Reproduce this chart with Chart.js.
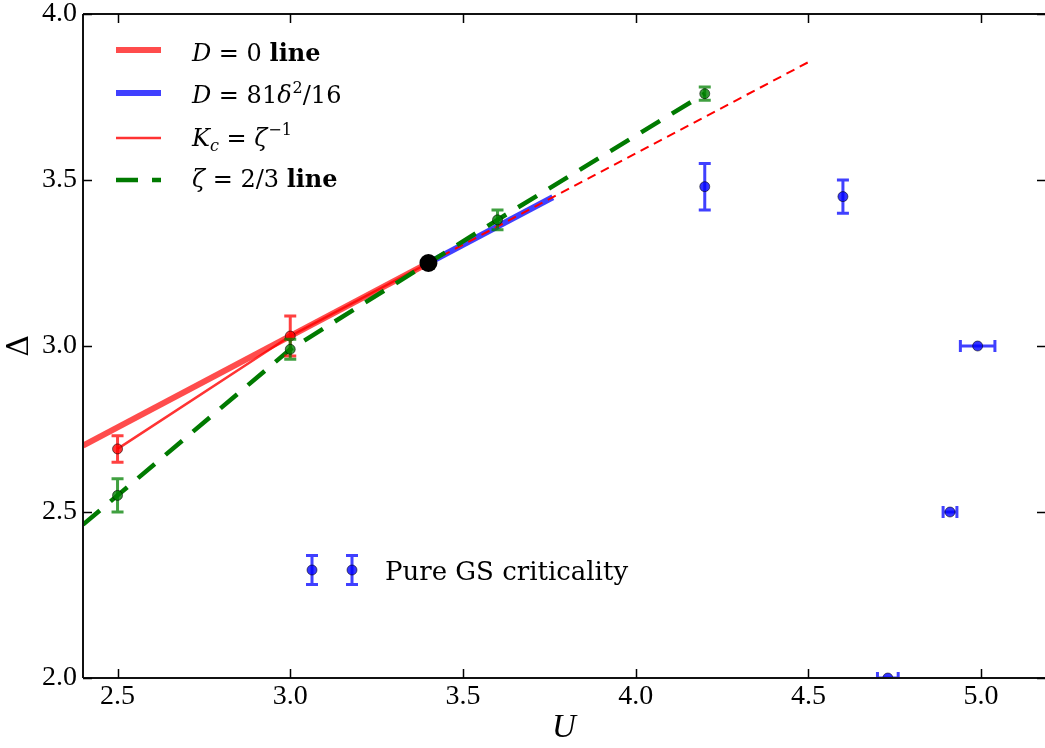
<!DOCTYPE html>
<html><head><meta charset="utf-8">
<script src="https://cdn.jsdelivr.net/npm/chart.js@4.4.1/dist/chart.umd.min.js"></script>
<style>html,body{margin:0;padding:0;background:#fff;overflow:hidden}#wrap{width:1045px;height:748px;position:relative}</style>
</head><body><div id="wrap"><canvas id="c" width="1045" height="748"></canvas></div>
<script>
// ---- axis ranges / ticks ----
const xTicks = [2.5, 3.0, 3.5, 4.0, 4.5, 5.0];
const yTicks = [2.0, 2.5, 3.0, 3.5, 4.0];
const xRange = [2.4, 5.185];
const yRange = [2.0, 4.0];

// ---- lines ----
const d0LineU = [2.4, 3.4];
const d0LineD = [2.70, 3.25];
const blueLineU = [3.4, 3.76];
const blueLineD = [3.25, 3.448];
const kcLineU = [2.5, 3.0, 3.4];
const kcLineD = [2.69, 3.03, 3.25];
const redDashU = [3.4, 4.5];
const redDashD = [3.25, 3.855];
const zetaLineU = [2.4, 2.5, 3.0, 3.4, 3.6, 4.2];
const zetaLineD = [2.462, 2.55, 2.99, 3.25, 3.38, 3.76];

// ---- data points ----
const redU = [2.5, 3.0];
const redD = [2.69, 3.03];
const redErr = [0.04, 0.06];
const greenU = [2.5, 3.0, 3.6, 4.2];
const greenD = [2.55, 2.99, 3.38, 3.76];
const greenErr = [0.05, 0.03, 0.03, 0.02];
const blueU = [4.2, 4.6, 4.99, 4.91, 4.73];
const blueD = [3.48, 3.45, 3.0, 2.5, 2.0];
const blueErrU = [0, 0, 0.05, 0.02, 0.03];
const blueErrD = [0.07, 0.05, 0, 0, 0];
const critU = [3.4];
const critD = [3.25];

const legendLabels = ['D = 0 line', 'D = 81δ²/16', 'K_c = ζ^-1', 'ζ = 2/3 line'];
const gsLabel = 'Pure GS criticality';

const pts = (xs, ys) => xs.map((x, i) => ({x: x, y: ys[i]}));

const RED_PT = 'rgba(255,0,0,0.8)', GREEN_PT = 'rgba(0,128,0,0.8)', BLUE_PT = 'rgba(0,0,255,0.8)';
const RED_EB = 'rgba(255,0,0,0.75)', GREEN_EB = 'rgba(0,128,0,0.75)', BLUE_EB = 'rgba(0,0,255,0.75)';

function lineDs(label, xs, ys, color, width, dash, order) {
  return {label, data: pts(xs, ys), showLine: true, borderColor: color, borderWidth: width,
    borderDash: dash || [], pointRadius: 0, tension: 0, order, fill: false, borderCapStyle: 'butt'};
}
function ptDs(label, xs, ys, fill, ebColor, errX, errY, order, r) {
  return {label, data: pts(xs, ys), showLine: false, pointRadius: r || 5, pointBackgroundColor: fill,
    pointBorderColor: 'rgba(0,0,0,0.55)', pointBorderWidth: 1, order, errX, errY, ebColor, clip: 0};
}

const datasets = [
  lineDs(legendLabels[0], d0LineU, d0LineD, 'rgba(255,0,0,0.7)', 6, null, 8),
  lineDs(legendLabels[1], blueLineU, blueLineD, 'rgba(0,0,255,0.75)', 6, null, 7),
  lineDs(legendLabels[2], kcLineU, kcLineD, 'rgba(255,0,0,0.8)', 2.5, null, 6),
  lineDs('dashed', redDashU, redDashD, 'rgba(255,0,0,1)', 2, [9, 6], 5),
  lineDs(legendLabels[3], zetaLineU, zetaLineD, '#007a00', 4.5, [22, 14], 4),
  ptDs('red pts', redU, redD, RED_PT, RED_EB, null, redErr, 3),
  ptDs('green pts', greenU, greenD, GREEN_PT, GREEN_EB, null, greenErr, 2),
  ptDs(gsLabel, blueU, blueD, BLUE_PT, BLUE_EB, blueErrU, blueErrD, 1),
  {label: 'critical', data: pts(critU, critD), showLine: false, pointRadius: 9, pointBackgroundColor: '#000',
   pointBorderColor: '#000', pointBorderWidth: 0, order: 0}
];

function drawEB(ctx, cx, cy, dxPx, dyPx, color) {
  ctx.save();
  ctx.strokeStyle = color; ctx.lineWidth = 3; ctx.lineCap = 'butt';
  const cap = 6;
  if (dyPx > 0) {
    ctx.beginPath();
    ctx.moveTo(cx, cy - dyPx); ctx.lineTo(cx, cy + dyPx);
    ctx.moveTo(cx - cap, cy - dyPx); ctx.lineTo(cx + cap, cy - dyPx);
    ctx.moveTo(cx - cap, cy + dyPx); ctx.lineTo(cx + cap, cy + dyPx);
    ctx.stroke();
  }
  if (dxPx > 0) {
    ctx.beginPath();
    ctx.moveTo(cx - dxPx, cy); ctx.lineTo(cx + dxPx, cy);
    ctx.moveTo(cx - dxPx, cy - cap); ctx.lineTo(cx - dxPx, cy + cap);
    ctx.moveTo(cx + dxPx, cy - cap); ctx.lineTo(cx + dxPx, cy + cap);
    ctx.stroke();
  }
  ctx.restore();
}

const errorBarPlugin = {
  id: 'errbars',
  beforeDatasetDraw(chart, args) {
    const ds = chart.data.datasets[args.index];
    if (!ds.errX && !ds.errY) return;
    const {ctx, chartArea: a, scales: {x, y}} = chart;
    ctx.save();
    ctx.beginPath(); ctx.rect(a.left, a.top, a.right - a.left, a.bottom - a.top); ctx.clip();
    ds.data.forEach((p, i) => {
      const cx = x.getPixelForValue(p.x), cy = y.getPixelForValue(p.y);
      const ex = ds.errX ? ds.errX[i] : 0, ey = ds.errY ? ds.errY[i] : 0;
      const dx = ex ? Math.abs(x.getPixelForValue(p.x + ex) - cx) : 0;
      const dy = ey ? Math.abs(y.getPixelForValue(p.y + ey) - cy) : 0;
      drawEB(ctx, cx, cy, dx, dy, ds.ebColor);
    });
    ctx.restore();
  }
};

function rich(ctx, x, y, parts) {
  parts.forEach(p => {
    ctx.font = p.f;
    ctx.fillText(p.t, x, y + (p.dy || 0));
    x += ctx.measureText(p.t).width + (p.gap || 0);
  });
}

const frameLegendPlugin = {
  id: 'frameLegend',
  afterDraw(chart) {
    const {ctx, chartArea: a, scales: {x, y}} = chart;
    ctx.save();
    // spines
    ctx.strokeStyle = '#111'; ctx.lineWidth = 2;
    ctx.beginPath();
    ctx.moveTo(a.left, a.top); ctx.lineTo(a.left, a.bottom);
    ctx.moveTo(a.left, a.bottom); ctx.lineTo(a.right, a.bottom);
    ctx.moveTo(a.left, a.top); ctx.lineTo(a.right, a.top);
    ctx.stroke();
    // inward ticks
    ctx.lineWidth = 1.5; ctx.strokeStyle = '#000';
    ctx.beginPath();
    xTicks.forEach(v => {
      const px = Math.round(x.getPixelForValue(v)) + 0.5;
      ctx.moveTo(px, a.bottom); ctx.lineTo(px, a.bottom - 9);
      ctx.moveTo(px, a.top); ctx.lineTo(px, a.top + 9);
    });
    yTicks.forEach(v => {
      const py = Math.round(y.getPixelForValue(v)) + 0.5;
      ctx.moveTo(a.left, py); ctx.lineTo(a.left + 9, py);
      ctx.moveTo(a.right, py); ctx.lineTo(a.right - 8, py);
    });
    ctx.stroke();

    // legend 1
    const F = '24px "DejaVu Serif"', FI = 'italic 24px "DejaVu Serif"', FB = 'bold 24px "DejaVu Serif"';
    const FS = '16px "DejaVu Serif"', FSI = 'italic 16px "DejaVu Serif"';
    const rows = [
      {ds: 0, y: 50, base: 61, parts: [{t: 'D', f: FI}, {t: ' = 0 ', f: F}, {t: 'line', f: FB}]},
      {ds: 1, y: 93, base: 103, parts: [{t: 'D', f: FI}, {t: ' = 81', f: F}, {t: 'δ', f: FI, gap: 1}, {t: '2', f: FS, dy: -10}, {t: '/16', f: F}]},
      {ds: 2, y: 138, base: 146, parts: [{t: 'K', f: FI}, {t: 'c', f: FSI, dy: 5}, {t: ' = ', f: F}, {t: 'ζ', f: FI, gap: 1}, {t: '−1', f: FS, dy: -11}]},
      {ds: 4, y: 180, base: 187, parts: [{t: 'ζ', f: FI}, {t: ' = 2/3 ', f: F}, {t: 'line', f: FB}]}
    ];
    rows.forEach(r => {
      const ds = chart.data.datasets[r.ds];
      ctx.save();
      ctx.strokeStyle = ds.borderColor; ctx.lineWidth = ds.borderWidth; ctx.setLineDash(ds.borderDash || []);
      ctx.beginPath(); ctx.moveTo(116, r.y); ctx.lineTo(161, r.y); ctx.stroke();
      ctx.restore();
      ctx.fillStyle = '#000'; ctx.textBaseline = 'alphabetic'; ctx.textAlign = 'left';
      rich(ctx, 192, r.base, r.parts);
    });

    // legend 2 (Pure GS criticality)
    const bds = chart.data.datasets[7];
    [312, 352].forEach(cx => {
      drawEB(ctx, cx, 570, 0, 14.5, bds.ebColor);
      ctx.beginPath(); ctx.arc(cx, 570, 5, 0, Math.PI * 2);
      ctx.fillStyle = bds.pointBackgroundColor; ctx.fill();
      ctx.lineWidth = 1; ctx.strokeStyle = bds.pointBorderColor; ctx.stroke();
    });
    ctx.fillStyle = '#000'; ctx.font = '26px "DejaVu Serif"';
    ctx.fillText(gsLabel, 385, 580);
    ctx.restore();
  }
};

new Chart(document.getElementById('c'), {
  type: 'scatter',
  data: {datasets},
  options: {
    responsive: false, animation: false, events: [],
    layout: {autoPadding: false, padding: {top: 14, right: 0, left: 0, bottom: 0}},
    plugins: {legend: {display: false}, tooltip: {enabled: false}},
    scales: {
      x: {
        type: 'linear', min: xRange[0], max: xRange[1],
        afterFit: s => { s.height = 70; s.paddingLeft = 0; s.paddingRight = 0; },
        afterBuildTicks: s => { s.ticks = xTicks.map(v => ({value: v})); },
        grid: {display: false, drawTicks: false, tickLength: 0},
        border: {display: false},
        ticks: {color: '#000', padding: 2, autoSkip: false, maxRotation: 0,
          font: {family: '"Liberation Serif"', size: 28}, callback: v => Number(v).toFixed(1)},
        title: {display: true, text: 'U', color: '#000', padding: {top: 0, bottom: 0},
          font: {family: '"Liberation Serif"', size: 33, style: 'italic'}}
      },
      y: {
        type: 'linear', min: yRange[0], max: yRange[1],
        afterFit: s => { s.width = 83; s.paddingTop = 0; s.paddingBottom = 0; },
        afterBuildTicks: s => { s.ticks = yTicks.map(v => ({value: v})); },
        grid: {display: false, drawTicks: false, tickLength: 0},
        border: {display: false},
        ticks: {color: '#000', padding: 6, autoSkip: false,
          font: {family: '"Liberation Serif"', size: 28}, callback: v => Number(v).toFixed(1)},
        title: {display: true, text: 'Δ', color: '#000', padding: {top: 2, bottom: 0},
          font: {family: '"DejaVu Serif"', size: 30}}
      }
    }
  },
  plugins: [errorBarPlugin, frameLegendPlugin]
});
</script></body></html>
